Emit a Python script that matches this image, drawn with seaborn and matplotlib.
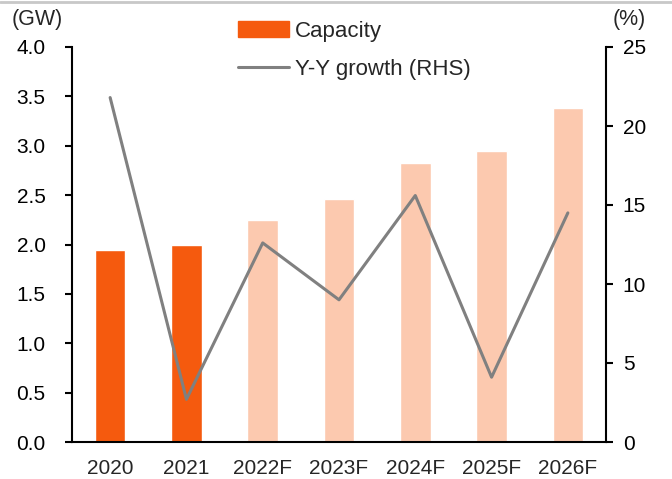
import numpy as np
import pandas as pd
import matplotlib
matplotlib.use("Agg")
import matplotlib.pyplot as plt
from matplotlib.patches import Patch
from matplotlib.lines import Line2D
import seaborn as sns

years = ["2020", "2021", "2022F", "2023F", "2024F", "2025F", "2026F"]
capacity = [1.94, 1.99, 2.25, 2.46, 2.83, 2.95, 3.38]
growth = [21.8, 2.7, 12.6, 9.0, 15.6, 4.1, 14.5]
bar_colors = ["#F55A0E", "#F55A0E", "#FCC9AF", "#FCC9AF", "#FCC9AF", "#FCC9AF", "#FCC9AF"]


def main():
    sns.set_theme(style="white")
    plt.rcParams["font.family"] = ["Liberation Sans", "DejaVu Sans"]
    fs = 15

    fig = plt.figure(figsize=(6.72, 4.79), dpi=100)
    ax = fig.add_axes([72 / 672, 1 - 442 / 479, (606 - 72) / 672, (442 - 47) / 479])

    df = pd.DataFrame({"year": years, "capacity": capacity})
    sns.barplot(data=df, x="year", y="capacity", hue="year", palette=bar_colors,
                width=0.4, legend=False, ax=ax, saturation=1)
    ax.set_ylim(0, 4.0)
    ax.set_yticks(np.arange(0, 4.01, 0.5))
    ax.set_yticklabels([f"{v:.1f}" for v in np.arange(0, 4.01, 0.5)])
    ax.set_xlim(-0.5, len(years) - 0.5)
    ax.set_xlabel("")
    ax.set_ylabel("")

    ax2 = ax.twinx()
    sns.lineplot(x=np.arange(len(years)), y=growth, color="#808080", linewidth=2.2, ax=ax2)
    ax2.set_ylim(0, 25)
    ax2.set_yticks(range(0, 26, 5))

    for a in (ax, ax2):
        for s in a.spines.values():
            s.set_visible(False)
        a.tick_params(colors="black", labelsize=fs, length=5, width=1.5, direction="out")
    ax.spines["left"].set_visible(True)
    ax.spines["bottom"].set_visible(True)
    ax2.spines["right"].set_visible(True)
    for k in ("left", "bottom"):
        ax.spines[k].set_color("black")
        ax.spines[k].set_linewidth(1.5)
    ax2.spines["right"].set_color("black")
    ax2.spines["right"].set_linewidth(1.5)

    # ticks between categories on the x axis
    ax.set_xticks(np.arange(-0.5, len(years), 1.0), minor=False)
    ax.set_xticklabels([])
    ax.set_xticks(np.arange(len(years)), minor=True)
    ax.set_xticklabels(years, minor=True)
    ax.tick_params(axis="x", which="minor", length=0, pad=12, labelsize=fs)
    ax.tick_params(axis="x", which="major", length=6, width=1.5)
    ax.tick_params(axis="y", pad=14)
    ax2.tick_params(axis="y", pad=7)

    fig.text(12 / 672, 1 - 20 / 479, "(GW)", fontsize=15.5, va="center", ha="left")
    fig.text(613 / 672, 1 - 20 / 479, "(%)", fontsize=15.5, va="center", ha="left")

    handles = [Patch(color="#F55A0E", label="Capacity"),
               Line2D([0], [0], color="#808080", linewidth=2.2, label="Y-Y growth (RHS)")]
    fig.legend(handles=handles, loc="upper left", bbox_to_anchor=(238 / 672, 1 - 21 / 479),
               frameon=False, fontsize=16, handlelength=2.3, handletextpad=0.25,
               labelspacing=0.75, borderaxespad=0, borderpad=0)

    fig.add_artist(Line2D([0, 1], [1 - 2 / 479, 1 - 2 / 479], color="#C8C8C8", linewidth=2,
                          transform=fig.transFigure))

    fig.savefig("out.png", dpi=100)


if __name__ == "__main__":
    main()
